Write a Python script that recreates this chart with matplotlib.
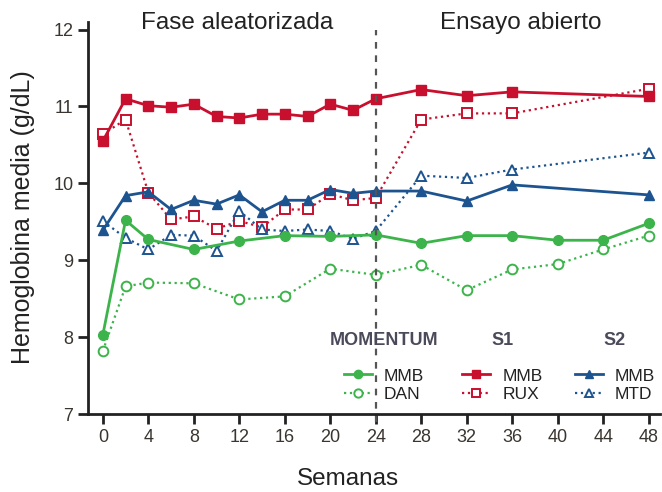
import matplotlib.pyplot as plt
from matplotlib.lines import Line2D

plt.rcParams["font.family"] = ["Liberation Sans", "DejaVu Sans"]

# weeks
wk_rb = [0, 2, 4, 6, 8, 10, 12, 14, 16, 18, 20, 22, 24, 28, 32, 36, 48]
wk_g = [0, 2, 4, 8, 12, 16, 20, 24, 28, 32, 36, 40, 44, 48]

# MOMENTUM
mom_mmb = [8.03, 9.52, 9.27, 9.14, 9.25, 9.32, 9.31, 9.33, 9.22, 9.32, 9.32, 9.26, 9.26, 9.48]
mom_dan = [7.82, 8.66, 8.71, 8.70, 8.49, 8.53, 8.89, 8.81, 8.94, 8.61, 8.88, 8.95, 9.14, 9.32]

# SIMPLIFY-1
s1_mmb = [10.55, 11.10, 11.01, 10.99, 11.03, 10.87, 10.85, 10.90, 10.90, 10.87,
          11.03, 10.95, 11.10, 11.22, 11.14, 11.19, 11.13]
s1_rux = [10.64, 10.83, 9.88, 9.53, 9.57, 9.41, 9.51, 9.43, 9.66, 9.66,
          9.86, 9.78, 9.81, 10.83, 10.91, 10.91, 11.23]

# SIMPLIFY-2
s2_mmb = [9.39, 9.84, 9.89, 9.66, 9.78, 9.73, 9.85, 9.63, 9.78, 9.78,
          9.92, 9.87, 9.90, 9.90, 9.77, 9.98, 9.85]
s2_mtd = [9.51, 9.29, 9.14, 9.33, 9.32, 9.12, 9.64, 9.40, 9.38, 9.40,
          9.38, 9.28, 9.38, 10.10, 10.07, 10.18, 10.40]

xticks = [0, 4, 8, 12, 16, 20, 24, 28, 32, 36, 40, 44, 48]
yticks = [7, 8, 9, 10, 11, 12]

green = "#3cb44b"
red = "#c8102e"
blue = "#1d5490"
txt = "#3a3530"

fig = plt.figure(figsize=(6.62, 4.92), dpi=100)
ax = fig.add_axes([0.133, 0.1585, 0.864, 0.797])

solid = dict(linestyle="-", linewidth=2.0, markersize=7)
dots = dict(linestyle=":", linewidth=1.6, markersize=7, markerfacecolor="white",
            markeredgewidth=1.4)

ax.plot(wk_g, mom_dan, color=green, marker="o", **dots, label="DAN")
ax.plot(wk_rb, s1_rux, color=red, marker="s", **dots, label="RUX")
ax.plot(wk_rb, s2_mtd, color=blue, marker="^", **dots, label="MTD")
ax.plot(wk_g, mom_mmb, color=green, marker="o", **solid, label="MMB")
ax.plot(wk_rb, s1_mmb, color=red, marker="s", **solid, label="MMB")
ax.plot(wk_rb, s2_mmb, color=blue, marker="^", **solid, label="MMB")

ax.axvline(24, color="#555555", linestyle=(0, (3, 3)), linewidth=1.6, ymin=-0.02,
           ymax=0.98, clip_on=False)

ax.set_xlim(-1.3, 49.0)
ax.set_ylim(7, 12.1)
ax.set_xticks(xticks)
ax.set_yticks(yticks)
ax.tick_params(axis="both", direction="out", length=7, width=2, colors="#222222",
               labelsize=13, labelcolor=txt)
for s in ["top", "right"]:
    ax.spines[s].set_visible(False)
for s in ["left", "bottom"]:
    ax.spines[s].set_linewidth(2)
    ax.spines[s].set_color("#222222")

ax.set_xlabel("Semanas", fontsize=17.5, color="#222222")
ax.xaxis.set_label_coords(0.455, -0.138)
ax.set_ylabel("Hemoglobina media (g/dL)", fontsize=18, color="#222222")
ax.yaxis.set_label_coords(-0.092, 0.503)

fig.text(0.358, 0.953, "Fase aleatorizada", fontsize=17.5, color="#222222",
         ha="center", va="center")
fig.text(0.787, 0.953, "Ensayo abierto", fontsize=17.5, color="#222222",
         ha="center", va="center")

# legends
def mk(color, marker, style):
    if style == "solid":
        return Line2D([], [], color=color, marker=marker, linestyle="-", linewidth=2.0,
                      markersize=6)
    return Line2D([], [], color=color, marker=marker, linestyle=":", linewidth=1.6,
                  markersize=6, markerfacecolor="white", markeredgewidth=1.4)

groups = [
    ("MOMENTUM", green, "o", ["MMB", "DAN"], 0.48),
    ("S1", red, "s", ["MMB", "RUX"], 0.68),
    ("S2", blue, "^", ["MMB", "MTD"], 0.85),
]
for title, color, marker, names, xpos in groups:
    handles = [mk(color, marker, "solid"), mk(color, marker, "dots")]
    leg = fig.legend(handles, names, title=title, loc="upper left",
                     bbox_to_anchor=(xpos, 0.35), frameon=False, fontsize=12.5,
                     handlelength=1.6, handletextpad=0.7, labelspacing=0.2,
                     borderpad=0.2)
    leg.get_title().set_fontweight("bold")
    leg.get_title().set_fontsize(13)
    leg.get_title().set_color("#4a4a5a")
    for t in leg.get_texts():
        t.set_color("#222222")
    leg._legend_box.sep = 14

fig.savefig("out.png", dpi=100)
